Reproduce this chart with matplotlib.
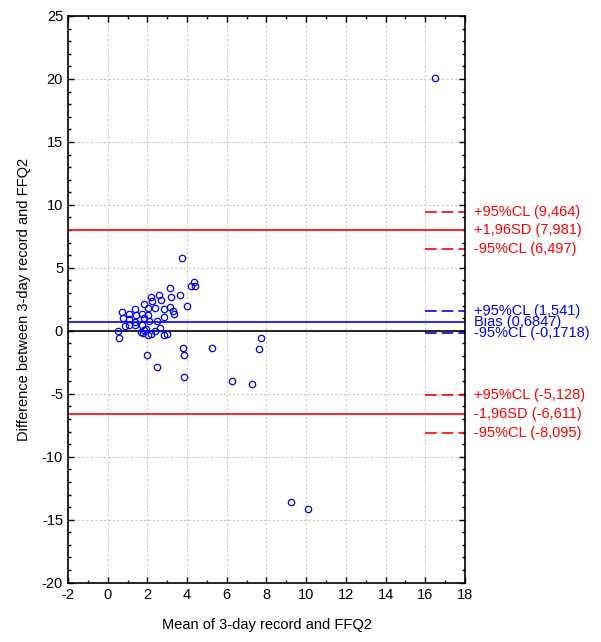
import matplotlib
matplotlib.use("Agg")
import matplotlib.pyplot as plt
from matplotlib.ticker import MultipleLocator

plt.rcParams['font.family'] = ['Liberation Sans', 'DejaVu Sans']
plt.rcParams['axes.unicode_minus'] = False

# Data (mean, difference)
mean_vals = [3.72, 4.36, 4.19, 4.39, 3.12, 3.62, 2.20, 2.57, 2.67, 3.20,
             1.82, 2.25, 2.04, 2.38, 3.13, 3.98, 2.83, 3.28, 3.34, 2.83,
             0.73, 1.08, 1.38, 1.45, 1.71, 2.04, 0.79, 1.09, 1.40, 1.82,
             2.10, 2.47, 1.06, 0.88, 1.39, 1.73, 1.94, 0.52, 0.59, 1.68,
             1.84, 1.77, 2.04, 2.17, 2.40, 2.62, 2.82, 3.00, 1.97, 2.47,
             3.78, 3.87, 3.87, 5.24, 6.25, 7.26, 7.70, 7.63, 9.22, 10.09,
             16.49]
diff_vals = [5.79, 3.86, 3.52, 3.52, 3.38, 2.83, 2.72, 2.85, 2.47, 2.70,
             2.15, 2.33, 1.85, 1.84, 1.91, 1.95, 1.70, 1.55, 1.35, 1.12,
             1.50, 1.37, 1.70, 1.26, 1.37, 1.22, 1.05, 0.92, 0.69, 1.00,
             0.78, 0.78, 0.43, 0.35, 0.44, 0.43, 0.18, 0.02, -0.57, -0.09,
             0.06, -0.19, -0.35, -0.28, -0.05, 0.20, -0.37, -0.26, -1.95, -2.86,
             -1.37, -1.95, -3.65, -1.37, -4.02, -4.23, -0.58, -1.48, -13.59, -14.15,
             20.05]

bias = 0.6847
bias_cl = [1.541, -0.1718]
upper_loa = 7.981
upper_cl = [9.464, 6.497]
lower_loa = -6.611
lower_cl = [-5.128, -8.095]

x_label = "Mean of 3-day record and FFQ2"
y_label = "Difference between 3-day record and FFQ2"

fig = plt.figure(figsize=(6.01, 6.42), dpi=100)
ax = fig.add_axes([0.1131, 0.0924, 0.6606, 0.8827])

ax.set_xlim(-2, 18)
ax.set_ylim(-20, 25)

red = '#ff0000'
blue = '#0000ff'

ax.axhline(0, color='black', lw=1.2, zorder=2)
ax.axhline(bias, color=blue, lw=1.2, zorder=2)
ax.axhline(upper_loa, color=red, lw=1.2, zorder=2)
ax.axhline(lower_loa, color=red, lw=1.2, zorder=2)

dash = (0, (7, 3))
for v in upper_cl + lower_cl:
    ax.plot([16, 18], [v, v], color=red, lw=1.2, linestyle=dash, zorder=2)
for v in bias_cl:
    ax.plot([16, 18], [v, v], color=blue, lw=1.2, linestyle=dash, zorder=2)

ax.plot(mean_vals, diff_vals, linestyle='none', marker='o', markersize=4.6,
        markerfacecolor='none', markeredgecolor=blue, markeredgewidth=0.9, zorder=3)

# labels
fs = 10.5
def lab(y, s, c):
    ax.text(1.022, y, s, color=c, fontsize=fs, va='center', ha='left',
            transform=ax.get_yaxis_transform(), clip_on=False)

lab(upper_cl[0], "+95%CL (9,464)", red)
lab(upper_loa, "+1,96SD (7,981)", red)
lab(upper_cl[1], "-95%CL (6,497)", red)
lab(bias_cl[0], "+95%CL (1,541)", blue)
lab(bias, "Bias (0,6847)", blue)
lab(bias_cl[1], "-95%CL (-0,1718)", blue)
lab(lower_cl[0], "+95%CL (-5,128)", red)
lab(lower_loa, "-1,96SD (-6,611)", red)
lab(lower_cl[1], "-95%CL (-8,095)", red)

ax.xaxis.set_major_locator(MultipleLocator(2))
ax.xaxis.set_minor_locator(MultipleLocator(1))
ax.yaxis.set_major_locator(MultipleLocator(5))
ax.yaxis.set_minor_locator(MultipleLocator(1))
ax.tick_params(which='both', direction='in', top=True, right=True, labelsize=10.5, width=1)
ax.tick_params(which='major', length=4)
ax.tick_params(which='minor', length=2.5)
ax.grid(True, which='major', color='#c8c8c8', linestyle=(0, (2, 2)), lw=0.8)
ax.set_axisbelow(True)
for sp in ax.spines.values():
    sp.set_linewidth(1.2)

ax.set_xlabel(x_label, fontsize=10.5, labelpad=12)
ax.set_ylabel(y_label, fontsize=10.5, labelpad=8)

fig.savefig("out.png", dpi=100)
